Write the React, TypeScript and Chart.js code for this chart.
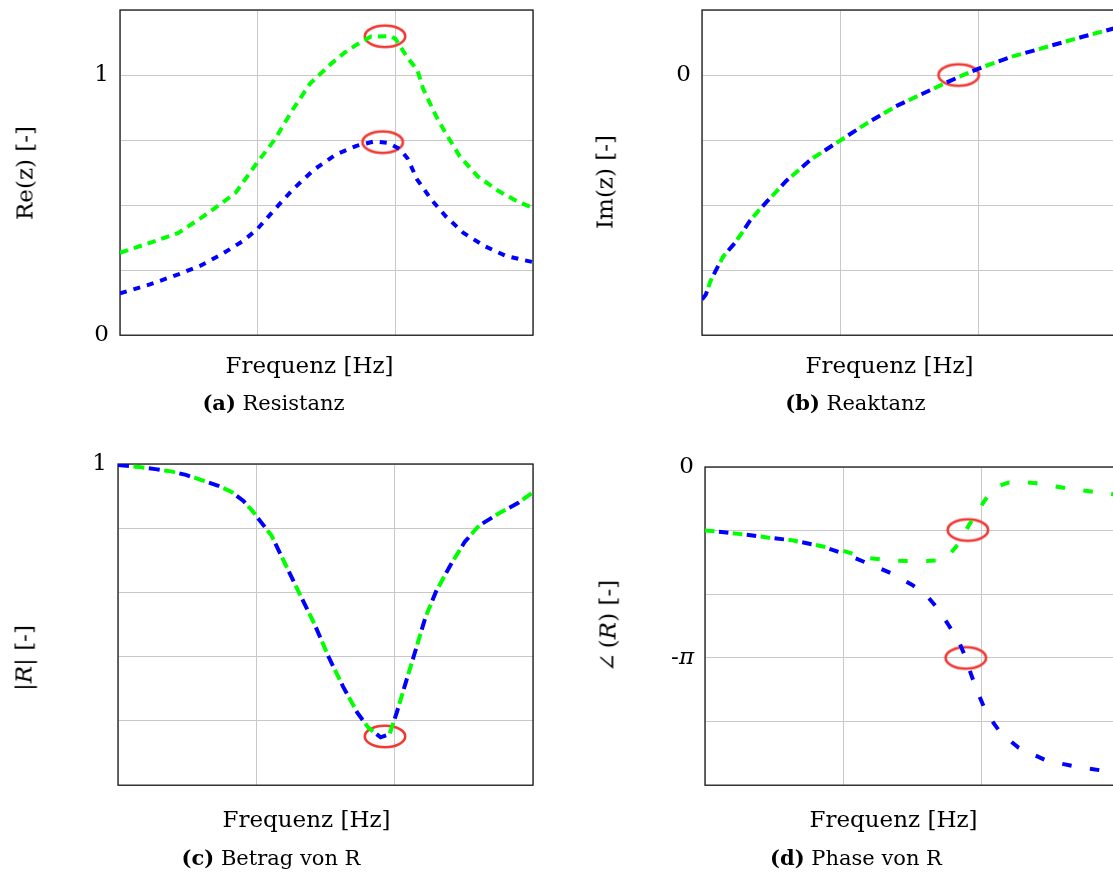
import React, { useEffect, useRef } from "react";
import { Chart, registerables } from "chart.js";

Chart.register(...registerables);

const FONT = "'DejaVu Serif', serif";
const GREEN = "#00ff00";
const BLUE = "#0000ff";
const RED = "rgb(240, 55, 50)";
const GRID = "rgb(200, 200, 200)";

// x axis: normalised frequency, grid lines at thirds
const X_TICKS = [0, 1, 2, 3];

// (a) Resistanz
const A_GREEN_X = [0, 0.217, 0.424, 0.606, 0.709, 0.839, 0.994, 1.123, 1.253, 1.382, 1.537, 1.627, 1.714, 1.823, 1.968, 2.0, 2.09, 2.16, 2.2, 2.295, 2.366, 2.469, 2.599, 2.754, 2.883, 3.0];
const A_GREEN_Y = [0.317, 0.355, 0.393, 0.457, 0.496, 0.547, 0.662, 0.751, 0.866, 0.968, 1.045, 1.084, 1.115, 1.148, 1.149, 1.14, 1.065, 1.02, 0.95, 0.843, 0.776, 0.687, 0.61, 0.553, 0.515, 0.489];
const A_BLUE_X = [0, 0.217, 0.424, 0.58, 0.735, 0.89, 0.994, 1.123, 1.253, 1.408, 1.563, 1.718, 1.849, 1.95, 2.034, 2.088, 2.159, 2.262, 2.366, 2.495, 2.65, 2.806, 3.0];
const A_BLUE_Y = [0.161, 0.195, 0.234, 0.266, 0.31, 0.361, 0.406, 0.483, 0.559, 0.636, 0.693, 0.728, 0.745, 0.739, 0.715, 0.68, 0.598, 0.521, 0.457, 0.393, 0.342, 0.304, 0.281];
const A_MARK_X = [1.925, 1.908];
const A_MARK_Y = [1.149, 0.742];
const A_Y_TICKS = [0, 0.25, 0.5, 0.75, 1, 1.25];
const A_Y_LABELS = ["0", "", "", "", "1", ""];

// (b) Reaktanz
const B_X = [0, 0.027, 0.063, 0.106, 0.154, 0.239, 0.292, 0.348, 0.408, 0.473, 0.61, 0.79, 0.995, 1.2, 1.405, 1.61, 1.79, 1.892, 2.046, 2.251, 2.508, 2.764, 3.0];
const B_Y = [-3.45, -3.38, -3.16, -2.98, -2.79, -2.58, -2.42, -2.24, -2.09, -1.94, -1.628, -1.296, -1.015, -0.735, -0.48, -0.276, -0.097, 0, 0.133, 0.286, 0.439, 0.592, 0.725];
const B_MARK_X = [1.86];
const B_MARK_Y = [0];
const B_Y_TICKS = [-4, -3, -2, -1, 0, 1];
const B_Y_LABELS = ["", "", "", "", "0", ""];

// (c) Betrag von R
const C_X = [0, 0.15, 0.27, 0.384, 0.49, 0.61, 0.72, 0.818, 0.907, 0.977, 1.11, 1.213, 1.316, 1.42, 1.523, 1.627, 1.73, 1.808, 1.898, 1.963, 2.015, 2.079, 2.144, 2.222, 2.3, 2.403, 2.506, 2.609, 2.764, 2.894, 3.0];
const C_Y = [0.997, 0.991, 0.984, 0.977, 0.966, 0.949, 0.933, 0.914, 0.885, 0.851, 0.777, 0.685, 0.593, 0.502, 0.399, 0.307, 0.226, 0.18, 0.149, 0.159, 0.226, 0.318, 0.41, 0.522, 0.604, 0.685, 0.757, 0.808, 0.849, 0.879, 0.912];
const C_MARK_X = [1.93];
const C_MARK_Y = [0.152];
const C_Y_TICKS = [0, 0.2, 0.4, 0.6, 0.8, 1];
const C_Y_LABELS = ["", "", "", "", "", "1"];

// (d) Phase von R  (values in units of pi)
const D_GREEN_X = [0, 0.12, 0.224, 0.33, 0.45, 0.63, 0.845, 0.992, 1.171, 1.349, 1.554, 1.681, 1.758, 1.834, 1.87, 1.911, 1.974, 2.013, 2.051, 2.115, 2.191, 2.268, 2.395, 2.651, 3.0];
const D_GREEN_Y = [-0.332, -0.34, -0.349, -0.357, -0.369, -0.384, -0.415, -0.438, -0.476, -0.49, -0.493, -0.49, -0.468, -0.4, -0.355, -0.3, -0.235, -0.185, -0.145, -0.102, -0.082, -0.077, -0.085, -0.116, -0.147];
const D_BLUE_X = [0, 0.12, 0.224, 0.33, 0.45, 0.63, 0.845, 0.992, 1.196, 1.375, 1.503, 1.605, 1.681, 1.758, 1.834, 1.885, 1.923, 1.974, 2.038, 2.14, 2.268, 2.472, 2.651, 3.0];
const D_BLUE_Y = [-0.332, -0.34, -0.349, -0.357, -0.369, -0.384, -0.415, -0.451, -0.51, -0.566, -0.62, -0.675, -0.74, -0.825, -0.912, -1.0, -1.085, -1.185, -1.293, -1.395, -1.471, -1.539, -1.565, -1.605];
const D_MARK_X = [1.9, 1.885];
const D_MARK_Y = [-0.33, -1.0];
const D_Y_TICKS = [-5 / 3, -4 / 3, -1, -2 / 3, -1 / 3, 0];
const D_Y_LABELS = ["", "", "-π", "", "", "0"];

type Series = { x: number[]; y: number[]; color: string; dash: number[]; offset: number };

type PanelProps = {
  left: number;
  top: number;
  width: number;
  height: number;
  padTop: number;
  padRight: number;
  yWidth: number;
  xHeight: number;
  yMin: number;
  yMax: number;
  yTicks: number[];
  yLabels: string[];
  series: Series[];
  markX: number[];
  markY: number[];
};

function makeEllipse(): HTMLCanvasElement {
  const c = document.createElement("canvas");
  c.width = 46;
  c.height = 27;
  const g = c.getContext("2d");
  if (g) {
    g.strokeStyle = RED;
    g.lineWidth = 2.6;
    g.beginPath();
    g.ellipse(23, 13.5, 20.2, 10.7, 0, 0, Math.PI * 2);
    g.stroke();
  }
  return c;
}

const framePlugin = {
  id: "frame",
  beforeDatasetsDraw(chart: any) {
    const { ctx, chartArea: a } = chart;
    ctx.save();
    ctx.strokeStyle = "#1a1a1a";
    ctx.lineWidth = 1.3;
    ctx.strokeRect(a.left, a.top, a.right - a.left, a.bottom - a.top);
    ctx.restore();
  },
};

function Panel(p: PanelProps) {
  const ref = useRef<HTMLCanvasElement | null>(null);
  useEffect(() => {
    if (!ref.current) return;
    const ellipse = makeEllipse();
    const datasets: any[] = p.series.map((s) => ({
      data: s.x.map((x, i) => ({ x, y: s.y[i] })),
      showLine: true,
      borderColor: s.color,
      backgroundColor: s.color,
      borderWidth: 4,
      borderDash: s.dash,
      borderDashOffset: s.offset,
      borderCapStyle: "butt",
      pointRadius: 0,
      tension: 0,
      fill: false,
    }));
    datasets.push({
      data: p.markX.map((x, i) => ({ x, y: p.markY[i] })),
      showLine: false,
      pointStyle: ellipse,
      pointRadius: 12,
      borderColor: RED,
      backgroundColor: "rgba(0,0,0,0)",
    });
    const chart = new Chart(ref.current, {
      type: "scatter",
      data: { datasets },
      options: {
        responsive: false,
        maintainAspectRatio: false,
        animation: false,
        events: [],
        layout: { padding: { left: 0, top: p.padTop, right: p.padRight, bottom: 0 } },
        plugins: { legend: { display: false }, tooltip: { enabled: false } },
        scales: {
          x: {
            type: "linear",
            min: 0,
            max: 3,
            afterBuildTicks: (s: any) => {
              s.ticks = X_TICKS.map((v) => ({ value: v }));
            },
            afterFit: (s: any) => {
              s.height = p.xHeight;
            },
            ticks: { display: false },
            grid: { color: GRID, lineWidth: 1, drawTicks: false },
            border: { display: false },
          },
          y: {
            type: "linear",
            min: p.yMin,
            max: p.yMax,
            afterBuildTicks: (s: any) => {
              s.ticks = p.yTicks.map((v) => ({ value: v }));
            },
            afterFit: (s: any) => {
              s.width = p.yWidth;
            },
            ticks: {
              padding: 11,
              color: "#000",
              font: (ctx: any) => ({
                family: FONT,
                size: 23,
                style: ctx.index !== undefined && p.yLabels[ctx.index] === "-π" ? "italic" : "normal",
              }),
              callback: (_v: any, i: number) => p.yLabels[i],
            },
            grid: { color: GRID, lineWidth: 1, drawTicks: false },
            border: { display: false },
          },
        },
      } as any,
      plugins: [framePlugin],
    });
    return () => chart.destroy();
  }, []);
  return (
    <canvas
      ref={ref}
      width={p.width}
      height={p.height}
      style={{ position: "absolute", left: p.left, top: p.top, width: p.width, height: p.height }}
    />
  );
}

function Txt(props: { x: number; y: number; size: number; rotate?: boolean; children: React.ReactNode }) {
  return (
    <div
      style={{
        position: "absolute",
        left: props.x,
        top: props.y,
        transform: `translate(-50%, -50%)${props.rotate ? " rotate(-90deg)" : ""}`,
        fontFamily: FONT,
        fontSize: props.size,
        lineHeight: 1,
        whiteSpace: "nowrap",
        color: "#000",
        zIndex: 2,
      }}
    >
      {props.children}
    </div>
  );
}

export default function App() {
  return (
    <div
      style={{
        position: "fixed",
        left: 0,
        top: 0,
        width: 1113,
        height: 874,
        overflow: "hidden",
        background: "#fff",
      }}
    >
      <Panel
        left={0}
        top={-20}
        width={560}
        height={380}
        padTop={30}
        padRight={27}
        yWidth={120}
        xHeight={24}
        yMin={0}
        yMax={1.25}
        yTicks={A_Y_TICKS}
        yLabels={A_Y_LABELS}
        series={[
          { x: A_GREEN_X, y: A_GREEN_Y, color: GREEN, dash: [8.5, 6], offset: 0 },
          { x: A_BLUE_X, y: A_BLUE_Y, color: BLUE, dash: [7, 7], offset: 0 },
        ]}
        markX={A_MARK_X}
        markY={A_MARK_Y}
      />
      <Panel
        left={560}
        top={-20}
        width={600}
        height={380}
        padTop={30}
        padRight={44}
        yWidth={142}
        xHeight={24}
        yMin={-4}
        yMax={1}
        yTicks={B_Y_TICKS}
        yLabels={B_Y_LABELS}
        series={[
          { x: B_X, y: B_Y, color: BLUE, dash: [9.5, 18.5], offset: 0 },
          { x: B_X, y: B_Y, color: GREEN, dash: [9.5, 18.5], offset: 14 },
        ]}
        markX={B_MARK_X}
        markY={B_MARK_Y}
      />
      <Panel
        left={0}
        top={430}
        width={560}
        height={380}
        padTop={34}
        padRight={27}
        yWidth={118}
        xHeight={20}
        yMin={0}
        yMax={1}
        yTicks={C_Y_TICKS}
        yLabels={C_Y_LABELS}
        series={[
          { x: C_X, y: C_Y, color: BLUE, dash: [11, 20], offset: 0 },
          { x: C_X, y: C_Y, color: GREEN, dash: [11, 20], offset: 15.5 },
        ]}
        markX={C_MARK_X}
        markY={C_MARK_Y}
      />
      <Panel
        left={560}
        top={430}
        width={600}
        height={380}
        padTop={37}
        padRight={40}
        yWidth={145}
        xHeight={17}
        yMin={-5 / 3}
        yMax={0}
        yTicks={D_Y_TICKS}
        yLabels={D_Y_LABELS}
        series={[
          { x: D_GREEN_X, y: D_GREEN_Y, color: GREEN, dash: [9.5, 18.5], offset: 0 },
          { x: D_BLUE_X, y: D_BLUE_Y, color: BLUE, dash: [9.5, 18.5], offset: 14 },
        ]}
        markX={D_MARK_X}
        markY={D_MARK_Y}
      />

      <Txt x={25} y={173} size={23} rotate>Re(z) [-]</Txt>
      <Txt x={605} y={182} size={23} rotate>Im(z) [-]</Txt>
      <Txt x={24} y={658} size={23} rotate>
        |<i>R</i>| [-]
      </Txt>
      <Txt x={608} y={626} size={23} rotate>
        ∠&#8201;(<i>R</i>) [-]
      </Txt>

      <Txt x={309.5} y={365} size={23}>Frequenz [Hz]</Txt>
      <Txt x={889.5} y={365} size={23}>Frequenz [Hz]</Txt>
      <Txt x={306.5} y={819} size={23}>Frequenz [Hz]</Txt>
      <Txt x={893.5} y={819} size={23}>Frequenz [Hz]</Txt>

      <Txt x={273.5} y={403} size={21}>
        <b>(a)</b> Resistanz
      </Txt>
      <Txt x={855.5} y={403} size={21}>
        <b>(b)</b> Reaktanz
      </Txt>
      <Txt x={271} y={857.5} size={21}>
        <b>(c)</b> Betrag von R
      </Txt>
      <Txt x={856} y={857.5} size={21}>
        <b>(d)</b> Phase von R
      </Txt>
    </div>
  );
}
